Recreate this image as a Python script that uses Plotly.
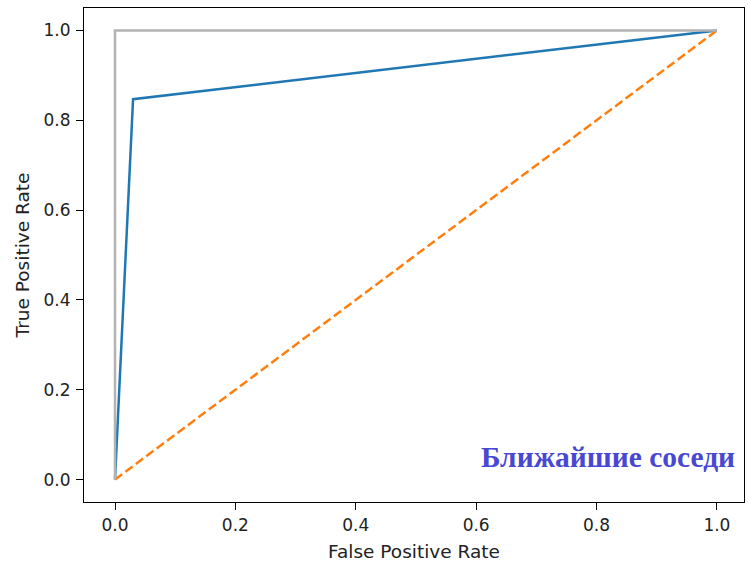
import plotly.graph_objects as go

# ROC curve data
fpr = [0.0, 0.03, 1.0]
tpr = [0.0, 0.847, 1.0]
chance_x = [0.0, 1.0]
chance_y = [0.0, 1.0]
perfect_x = [0.0, 0.0, 1.0]
perfect_y = [0.0, 1.0, 1.0]
tick_vals = [0.0, 0.2, 0.4, 0.6, 0.8, 1.0]
tick_text = ["0.0", "0.2", "0.4", "0.6", "0.8", "1.0"]
label_text = "Ближайшие соседи"

fig = go.Figure()
fig.add_trace(go.Scatter(x=fpr, y=tpr, mode="lines",
                         line=dict(color="#1f77b4", width=2.5), showlegend=False))
fig.add_trace(go.Scatter(x=chance_x, y=chance_y, mode="lines",
                         line=dict(color="#ff7f0e", width=2.5, dash="9px,4px"), showlegend=False))
fig.add_trace(go.Scatter(x=perfect_x, y=perfect_y, mode="lines",
                         line=dict(color="#b3b3b3", width=2.5), showlegend=False))

fig.add_annotation(x=1.034, y=0.05, xref="x", yref="y", text="<b>" + label_text + "</b>",
                   showarrow=False, xanchor="right", yanchor="middle",
                   font=dict(family="Liberation Serif", size=29.5, color="rgb(72,72,210)"))

axis_common = dict(tickvals=tick_vals, ticktext=tick_text,
                   showgrid=False, zeroline=False, showline=True, mirror=True,
                   linecolor="black", linewidth=1.2, ticks="outside", ticklen=7,
                   tickwidth=1.2, tickcolor="black", automargin=False,
                   tickfont=dict(family="DejaVu Sans", size=17, color="#222"))

fig.update_layout(
    width=748, height=565,
    margin=dict(l=84, r=4, t=8, b=63),
    plot_bgcolor="white", paper_bgcolor="white",
    xaxis=dict(**axis_common, range=[-0.0515, 1.045],
               title=dict(text="False Positive Rate", standoff=11,
                          font=dict(family="DejaVu Sans", size=18.5, color="#222"))),
    yaxis=dict(**axis_common, range=[-0.05, 1.05], ticklabelstandoff=2,
               title=dict(text="True Positive Rate", standoff=8,
                          font=dict(family="DejaVu Sans", size=18.5, color="#222"))),
)

fig.write_html("out.html", config={"displayModeBar": False},
               post_script="document.body.style.margin='0';document.body.style.overflow='hidden';")
